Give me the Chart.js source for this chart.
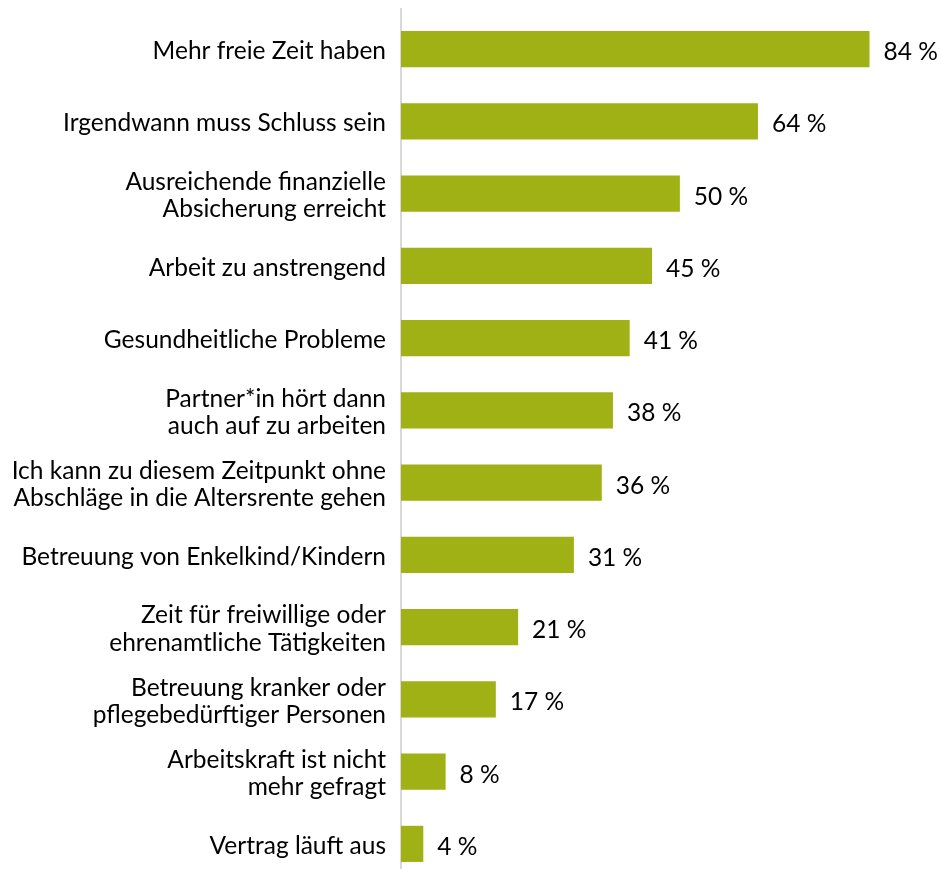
<!DOCTYPE html>
<html>
<head>
    <script src="https://cdn.jsdelivr.net/npm/chart.js@4.4.1/dist/chart.umd.min.js"></script>
    <style>
        html, body {
            margin: 0;
            padding: 0;
            background: #ffffff;
            overflow: hidden;
        }
        .chart-box {
            position: relative;
            width: 942px;
            height: 880px;
        }
    </style>
</head>
<body>
    <div class="chart-box">
        <canvas id="gruendeChart"></canvas>
    </div>

    <script>
        // Gründe für den Ruhestand
        const categories = [
            'Mehr freie Zeit haben',
            'Irgendwann muss Schluss sein',
            ['Ausreichende finanzielle', 'Absicherung erreicht'],
            'Arbeit zu anstrengend',
            'Gesundheitliche Probleme',
            ['Partner*in hört dann', 'auch auf zu arbeiten'],
            ['Ich kann zu diesem Zeitpunkt ohne', 'Abschläge in die Altersrente gehen'],
            'Betreuung von Enkelkind/Kindern',
            ['Zeit für freiwillige oder', 'ehrenamtliche Tätigkeiten'],
            ['Betreuung kranker oder', 'pflegebedürftiger Personen'],
            ['Arbeitskraft ist nicht', 'mehr gefragt'],
            'Vertrag läuft aus'
        ];
        const values = [84, 64, 50, 45, 41, 38, 36, 31, 21, 17, 8, 4];

        const barColor = '#9fb114';
        const fontFamily = 'Lato, "Open Sans", sans-serif';
        const fontSize = 24.5;

        // Prozentwerte rechts neben die Balken schreiben
        const valueLabels = {
            id: 'valueLabels',
            afterDatasetsDraw(chart) {
                const ctx = chart.ctx;
                const meta = chart.getDatasetMeta(0);
                ctx.save();
                ctx.font = fontSize + 'px ' + fontFamily;
                ctx.fillStyle = '#000000';
                ctx.textBaseline = 'middle';
                ctx.textAlign = 'left';
                meta.data.forEach((bar, i) => {
                    ctx.fillText(values[i] + ' %', bar.x + 14, bar.y + 3);
                });
                ctx.restore();
            }
        };

        // senkrechte Achsenlinie
        const axisLine = {
            id: 'axisLine',
            beforeDatasetsDraw(chart) {
                const ctx = chart.ctx;
                const x = chart.scales.x.getPixelForValue(0);
                ctx.save();
                ctx.strokeStyle = '#d9d9d9';
                ctx.lineWidth = 2;
                ctx.beginPath();
                ctx.moveTo(x, 8);
                ctx.lineTo(x, chart.chartArea.bottom);
                ctx.stroke();
                ctx.restore();
            }
        };

        new Chart(document.getElementById('gruendeChart'), {
            type: 'bar',
            data: {
                labels: categories,
                datasets: [{
                    data: values,
                    backgroundColor: barColor,
                    barPercentage: 0.5,
                    categoryPercentage: 1.0
                }]
            },
            options: {
                indexAxis: 'y',
                responsive: true,
                maintainAspectRatio: false,
                animation: false,
                layout: {
                    padding: { top: 13, right: 0, bottom: 0, left: 0 }
                },
                plugins: {
                    legend: { display: false },
                    tooltip: { enabled: false }
                },
                scales: {
                    x: {
                        min: 0,
                        max: 97,
                        display: false
                    },
                    y: {
                        grid: { display: false },
                        border: { display: false },
                        ticks: {
                            color: '#000000',
                            padding: 7,
                            labelOffset: 2,
                            font: { family: fontFamily, size: fontSize, lineHeight: 1.12 }
                        },
                        afterFit(scale) {
                            scale.width = 401;
                            scale.paddingTop = 0;
                            scale.paddingBottom = 0;
                        }
                    }
                }
            },
            plugins: [valueLabels, axisLine]
        });
    </script>
</body>
</html>
